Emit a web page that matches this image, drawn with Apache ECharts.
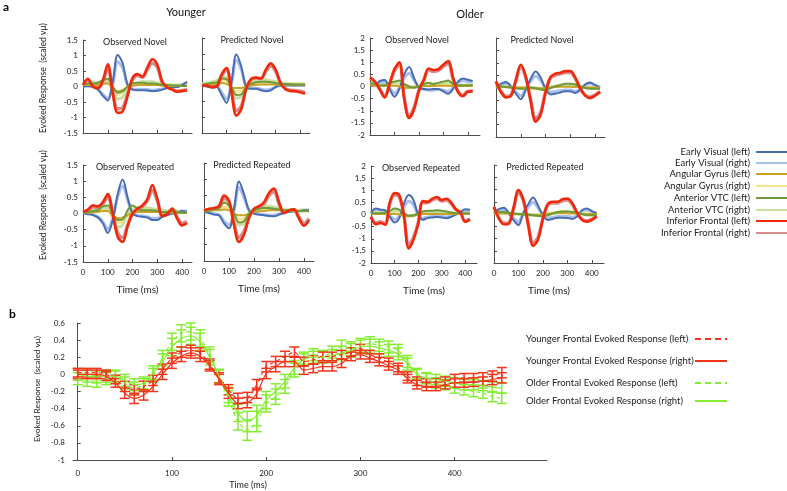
<!DOCTYPE html>
<html><head><meta charset="utf-8">
<script src="https://cdn.jsdelivr.net/npm/echarts@6/dist/echarts.min.js"></script>
<style>html,body{margin:0;padding:0;background:#fff}#c{width:787px;height:491px}</style>
</head><body><div id="c"></div>
<script>
// ---------- Panel a data (time in ms, sampled every 20 ms) ----------
const time = [0,20,40,60,80,100,120,140,160,180,200,220,240,260,280,300,320,340,360,380,400,420];
const xTicks = [0,100,200,300,400];
const regionNames = ['Early Visual (left)','Early Visual (right)','Angular Gyrus (left)','Angular Gyrus (right)','Anterior VTC (left)','Anterior VTC (right)','Inferior Frontal (left)','Inferior Frontal (right)'];

// Younger - Observed Novel
const yonEVL = [0,0.02,0,-0.1,-0.3,-0.45,0.15,1.02,0.75,0.05,-0.1,-0.12,-0.12,-0.13,-0.15,-0.14,-0.1,-0.05,-0.02,-0.02,0.05,0.15];
const yonEVR = [0.02,0.02,0,-0.08,-0.25,-0.38,0.05,0.8,0.6,0.05,-0.08,-0.1,-0.1,-0.1,-0.12,-0.1,-0.08,-0.03,0,0,0.05,0.12];
const yonAGL = [0.05,0.05,0.05,0.05,0.08,0.1,-0.05,-0.15,-0.12,-0.02,0.02,0.05,0.05,0.05,0.05,0.05,0.03,0.02,0.02,0.02,0.02,0.02];
const yonAGR = [0.08,0.08,0.08,0.08,0.12,0.15,-0.05,-0.25,-0.2,-0.03,0.05,0.08,0.1,0.1,0.1,0.08,0.05,0.05,0.05,0.05,0.05,0.05];
const yonVTL = [0.05,0.1,0.1,0.12,0.2,0.25,0,-0.2,-0.15,0,0.1,0.12,0.12,0.1,0.1,0.08,0.05,0.05,0.03,0.03,0.02,0.02];
const yonVTR = [0.1,0.15,0.15,0.12,0.15,0.15,-0.1,-0.4,-0.35,-0.05,0.05,0.12,0.15,0.15,0.15,0.12,0.08,0.05,0.05,0.05,0.05,0.05];
const yonIFL = [0.05,0.25,0,-0.05,0.2,0.72,-0.2,-0.85,-0.8,-0.3,0.27,0.4,0.32,0.62,0.88,0.7,0.15,-0.03,-0.1,-0.17,-0.15,-0.12];
const yonIFR = [0.05,0.2,0,-0.05,0.15,0.6,-0.15,-0.72,-0.68,-0.25,0.22,0.35,0.3,0.55,0.75,0.62,0.12,-0.03,-0.08,-0.15,-0.13,-0.1];

// Younger - Predicted Novel
const ypnEVL = [0,-0.03,-0.06,-0.05,-0.3,-0.55,0.1,0.98,0.6,-0.05,-0.1,-0.1,-0.15,-0.18,-0.15,-0.05,0,0,0,0,0,0];
const ypnEVR = [0.02,0,-0.03,-0.03,-0.22,-0.42,0.05,0.8,0.5,-0.02,-0.08,-0.08,-0.12,-0.14,-0.12,-0.04,0,0.02,0.02,0.02,0.02,0.02];
const ypnAGL = [0.02,0.02,0.03,0.05,0.08,0.05,-0.05,-0.08,-0.08,-0.03,0,0.02,0.03,0.03,0.03,0.03,0.02,0.02,0.02,0.02,0.02,0.02];
const ypnAGR = [0.05,0.05,0.08,0.1,0.18,0.15,-0.05,-0.2,-0.18,-0.05,0.02,0.05,0.08,0.1,0.1,0.08,0.05,0.05,0.05,0.05,0.05,0.05];
const ypnVTL = [0.02,0.05,0.08,0.1,0.22,0.2,-0.05,-0.3,-0.28,-0.05,0.05,0.1,0.12,0.12,0.1,0.08,0.05,0.05,0.04,0.03,0.03,0.03];
const ypnVTR = [0.05,0.08,0.12,0.15,0.28,0.25,-0.05,-0.4,-0.35,-0.05,0.08,0.15,0.18,0.18,0.15,0.12,0.08,0.06,0.05,0.05,0.05,0.05];
const ypnIFL = [0,0,-0.05,-0.03,0.35,0.55,-0.2,-0.95,-0.75,-0.1,0.2,0.25,0.22,0.5,0.7,0.5,0.08,-0.12,-0.17,-0.18,-0.21,-0.26];
const ypnIFR = [0,0,-0.04,-0.02,0.3,0.48,-0.15,-0.8,-0.65,-0.08,0.18,0.24,0.22,0.45,0.62,0.45,0.08,-0.1,-0.15,-0.16,-0.18,-0.22];

// Younger - Observed Repeated
const yorEVL = [0,-0.02,-0.05,-0.12,-0.3,-0.6,-0.2,0.6,1.05,0.5,0,-0.08,-0.1,-0.12,-0.2,-0.2,-0.1,-0.05,0,0.02,0.08,0.05];
const yorEVR = [0.02,0,-0.03,-0.1,-0.25,-0.48,-0.15,0.5,0.85,0.42,0.02,-0.06,-0.08,-0.1,-0.15,-0.15,-0.08,-0.03,0.02,0.04,0.08,0.08];
const yorAGL = [0.02,0.02,0.03,0.05,0.08,0.08,-0.05,-0.15,-0.12,-0.05,0.02,0.05,0.05,0.05,0.05,0.05,0.03,0.02,0.02,0.02,0.02,0.02];
const yorAGR = [0.05,0.05,0.06,0.08,0.12,0.12,-0.05,-0.28,-0.25,-0.08,0.05,0.1,0.12,0.12,0.1,0.08,0.06,0.05,0.05,0.05,0.05,0.05];
const yorVTL = [0.02,0.05,0.08,0.1,0.22,0.25,0,-0.2,-0.18,0.1,0.25,0.15,0.1,0.1,0.1,0.08,0.05,0.05,0.08,0.05,0.02,0.02];
const yorVTR = [0.05,0.08,0.1,0.12,0.18,0.15,-0.15,-0.42,-0.35,0,0.15,0.18,0.18,0.18,0.15,0.12,0.1,0.08,0.1,0.08,0.05,0.05];
const yorIFL = [0.05,0.12,0.25,0.22,0.35,0.6,0,-0.72,-0.88,-0.4,0,0.15,0.25,0.45,0.88,0.45,-0.08,-0.02,0.15,-0.15,-0.37,-0.3];
const yorIFR = [0.05,0.1,0.2,0.18,0.3,0.5,0,-0.6,-0.75,-0.35,0,0.12,0.22,0.4,0.72,0.4,-0.05,0,0.12,-0.12,-0.3,-0.25];

// Younger - Predicted Repeated
const yprEVL = [0,-0.03,-0.08,-0.1,-0.35,-0.5,0.1,0.93,0.55,0.05,-0.05,-0.08,-0.1,-0.12,-0.13,-0.08,-0.03,0,0.02,0.03,0.05,0.05];
const yprEVR = [0.02,0,-0.05,-0.08,-0.28,-0.4,0.05,0.75,0.45,0.05,-0.03,-0.06,-0.08,-0.1,-0.1,-0.06,-0.02,0.02,0.03,0.04,0.05,0.06];
const yprAGL = [0.02,0.03,0.05,0.05,0.08,0.05,-0.05,-0.1,-0.1,-0.05,0,0.02,0.03,0.05,0.05,0.05,0.03,0.03,0.02,0.02,0.02,0.02];
const yprAGR = [0.05,0.05,0.08,0.1,0.15,0.12,-0.05,-0.22,-0.2,-0.05,0.03,0.06,0.08,0.1,0.1,0.08,0.06,0.05,0.05,0.05,0.05,0.05];
const yprVTL = [0.02,0.05,0.08,0.12,0.28,0.2,-0.05,-0.32,-0.28,-0.05,0.05,0.1,0.12,0.12,0.1,0.08,0.05,0.05,0.04,0.03,0.03,0.03];
const yprVTR = [0.05,0.08,0.1,0.15,0.32,0.25,-0.05,-0.4,-0.35,-0.05,0.08,0.15,0.18,0.18,0.15,0.12,0.08,0.06,0.05,0.05,0.05,0.05];
const yprIFL = [0.05,0.1,0.12,0.18,0.5,0.35,-0.4,-0.92,-0.7,-0.18,0.1,0.18,0.3,0.58,0.72,0.3,-0.03,0.05,0.08,-0.2,-0.42,-0.25];
const yprIFR = [0.05,0.08,0.1,0.15,0.42,0.3,-0.32,-0.78,-0.6,-0.15,0.08,0.15,0.25,0.5,0.62,0.25,-0.02,0.04,0.06,-0.16,-0.35,-0.2];

// Older - Observed Novel
const oonEVL = [0.05,0.05,0.22,0.27,-0.1,-0.42,-0.1,0.5,0.8,0.35,-0.05,-0.1,-0.12,-0.1,-0.1,-0.2,-0.3,-0.1,0.2,0.33,0.28,0.22];
const oonEVR = [0.08,0.05,0.15,0.18,-0.05,-0.28,-0.05,0.35,0.55,0.25,-0.02,-0.12,-0.15,-0.15,-0.12,-0.15,-0.2,-0.05,0.15,0.25,0.2,0.18];
const oonAGL = [0.05,0.03,0.02,0.02,0.03,0.03,0,-0.05,-0.05,-0.02,0,0.02,0.02,0.02,0.03,0.03,0.03,0.02,0.02,0.02,0.02,0.02];
const oonAGR = [0.1,0.08,0.05,0.05,0.08,0.1,0.05,-0.05,-0.05,0,0.05,0.08,0.1,0.1,0.12,0.12,0.1,0.08,0.05,0.05,0.05,0.05];
const oonVTL = [0.15,0.1,0.05,0.05,0.15,0.2,0.25,0.1,0,-0.05,0,0.1,0.15,0.1,0.15,0.2,0.25,0.1,0.05,0.05,0.05,0.05];
const oonVTR = [0.12,0.08,0.05,0.05,0.1,0.15,0.18,0.08,0,-0.03,0.02,0.08,0.12,0.1,0.12,0.15,0.18,0.08,0.05,0.05,0.05,0.05];
const oonIFL = [0.38,0.2,-0.12,-0.45,0.1,0.72,1.0,-0.5,-1.3,-0.95,-0.18,0.28,0.74,0.68,0.72,0.9,1.05,0.35,-0.22,-0.4,-0.22,-0.2];
const oonIFR = [0.35,0.18,-0.1,-0.4,0.08,0.65,0.9,-0.45,-1.2,-0.88,-0.15,0.25,0.68,0.62,0.66,0.82,0.95,0.3,-0.2,-0.36,-0.2,-0.18];

// Older - Predicted Novel
const opnEVL = [0.02,0.15,0.22,0.05,-0.25,-0.47,-0.1,0.35,0.65,0.4,-0.05,-0.28,-0.25,-0.2,-0.15,-0.15,-0.22,-0.1,0.12,0.2,0.1,0];
const opnEVR = [0.02,0.1,0.15,0.03,-0.18,-0.33,-0.05,0.25,0.45,0.28,-0.03,-0.18,-0.16,-0.12,-0.1,-0.1,-0.15,-0.06,0.1,0.15,0.08,0];
const opnAGL = [0.02,0.02,0.02,0.02,0,0,0,-0.02,-0.03,-0.03,-0.02,0,0.02,0.03,0.03,0.03,0.02,0.02,0,0,0,0];
const opnAGR = [0.05,0.05,0.03,0.02,0,-0.02,-0.02,-0.05,-0.06,-0.05,-0.02,0.02,0.05,0.08,0.1,0.1,0.08,0.05,0.02,0,0,0];
const opnVTL = [0.05,0.05,0.02,0,-0.03,-0.05,-0.03,0,-0.03,-0.08,-0.1,-0.02,0.05,0.1,0.15,0.15,0.12,0.05,-0.02,-0.05,-0.05,-0.05];
const opnVTR = [0.05,0.05,0.03,0,-0.02,-0.03,-0.02,0,-0.02,-0.05,-0.06,0,0.05,0.08,0.12,0.12,0.1,0.05,0,-0.03,-0.03,-0.03];
const opnIFL = [0.25,-0.18,-0.4,-0.35,0.3,0.92,0.45,-0.55,-1.38,-1.1,-0.2,0.42,0.56,0.6,0.66,0.66,0.4,-0.05,-0.33,-0.43,-0.33,-0.18];
const opnIFR = [0.22,-0.15,-0.35,-0.3,0.26,0.82,0.4,-0.5,-1.25,-1.0,-0.18,0.38,0.5,0.55,0.6,0.6,0.36,-0.04,-0.3,-0.38,-0.3,-0.16];

// Older - Observed Repeated
const oorEVL = [0.05,0.25,0.2,0.18,-0.1,-0.33,-0.15,0.45,0.8,0.6,0,-0.22,-0.15,-0.12,-0.1,-0.12,-0.15,-0.1,0,0.1,0.22,0.2];
const oorEVR = [0.05,0.15,0.12,0.12,-0.05,-0.2,-0.08,0.3,0.55,0.4,0,-0.15,-0.1,-0.08,-0.05,-0.08,-0.1,-0.05,0.02,0.08,0.15,0.15];
const oorAGL = [0.02,0.02,0.02,0.02,0.02,0.02,0,-0.05,-0.05,-0.02,0,0.02,0.02,0.02,0.02,0.02,0.02,0.02,0.02,0.02,0.02,0.02];
const oorAGR = [0.08,0.08,0.05,0.05,0.05,0.08,0.05,-0.05,-0.08,-0.05,0.02,0.06,0.08,0.08,0.08,0.08,0.08,0.06,0.05,0.05,0.05,0.05];
const oorVTL = [0.05,0.05,0.05,0.08,0.15,0.25,0.2,0.05,-0.05,-0.05,0.05,0.12,0.15,0.15,0.18,0.15,0.12,0.08,0.05,0.05,0.05,0.05];
const oorVTR = [0.05,0.05,0.05,0.06,0.1,0.18,0.15,0.03,-0.05,-0.03,0.03,0.08,0.1,0.12,0.12,0.1,0.08,0.05,0.04,0.04,0.04,0.04];
const oorIFL = [-0.1,-0.4,-0.35,-0.42,0.5,0.88,0.8,-0.05,-1.4,-1.05,-0.4,0.55,0.52,0.65,0.72,0.6,0.65,0.5,0.22,0.08,-0.3,-0.2];
const oorIFR = [-0.08,-0.35,-0.3,-0.38,0.45,0.8,0.72,-0.05,-1.28,-0.95,-0.35,0.5,0.48,0.6,0.66,0.55,0.6,0.45,0.2,0.06,-0.28,-0.18];

// Older - Predicted Repeated
const oprEVL = [0.02,0.2,0.26,0.05,-0.25,-0.45,0.05,0.4,0.67,0.35,-0.05,-0.24,-0.2,-0.15,-0.15,-0.16,-0.2,-0.1,0.15,0.22,0.12,0.02];
const oprEVR = [0.02,0.14,0.18,0.03,-0.18,-0.32,0.03,0.28,0.48,0.25,-0.03,-0.16,-0.14,-0.1,-0.1,-0.1,-0.13,-0.06,0.1,0.16,0.08,0.02];
const oprAGL = [0.02,0.02,0.02,0.02,0,0,0,-0.02,-0.03,-0.03,-0.02,0,0.02,0.03,0.03,0.03,0.02,0.02,0,0,0,0];
const oprAGR = [0.05,0.05,0.04,0.02,0,-0.02,-0.03,-0.05,-0.06,-0.05,-0.02,0.02,0.05,0.08,0.1,0.1,0.08,0.05,0.02,0,0,0];
const oprVTL = [0.05,0.08,0.08,0.05,0.02,0,-0.02,-0.03,-0.05,-0.08,-0.1,-0.05,0.02,0.08,0.1,0.1,0.08,0.05,0,-0.05,-0.05,-0.05];
const oprVTR = [0.05,0.06,0.06,0.04,0.02,0,-0.02,-0.02,-0.04,-0.06,-0.07,-0.03,0.02,0.06,0.08,0.08,0.06,0.04,0,-0.03,-0.03,-0.03];
const oprIFL = [0.3,-0.18,-0.42,-0.4,0.25,0.98,0.6,-0.45,-1.3,-1.05,-0.2,0.4,0.5,0.5,0.6,0.63,0.45,0.05,-0.24,-0.31,-0.24,-0.1];
const oprIFR = [0.27,-0.16,-0.38,-0.36,0.22,0.88,0.54,-0.4,-1.18,-0.95,-0.18,0.36,0.45,0.45,0.54,0.57,0.4,0.04,-0.22,-0.28,-0.22,-0.09];

// ---------- Panel b data (time every 10 ms) ----------
const timeB = [0,10,20,30,40,50,60,70,80,90,100,110,120,130,140,150,160,170,180,190,200,210,220,230,240,250,260,270,280,290,300,310,320,330,340,350,360,370,380,390,400,410,420,430,440,450];
const youngLeft = [0.02,0.02,0.02,0.0,-0.06,-0.14,-0.18,-0.14,-0.07,0.06,0.19,0.26,0.28,0.25,0.12,-0.04,-0.18,-0.28,-0.27,-0.12,0.09,0.15,0.21,0.26,0.15,0.17,0.21,0.21,0.23,0.26,0.3,0.23,0.19,0.14,0.08,-0.02,-0.08,-0.1,-0.1,-0.08,-0.05,-0.04,-0.04,-0.03,-0.02,0.02];
const youngRight = [0.0,0.0,0.0,-0.02,-0.1,-0.22,-0.28,-0.24,-0.14,0.0,0.13,0.21,0.25,0.21,0.1,-0.06,-0.22,-0.34,-0.33,-0.22,0.01,0.09,0.15,0.15,0.05,0.07,0.09,0.09,0.13,0.21,0.23,0.19,0.15,0.1,0.05,-0.05,-0.12,-0.14,-0.14,-0.12,-0.1,-0.1,-0.09,-0.08,-0.06,-0.04];
const olderLeft = [-0.05,-0.07,-0.08,-0.05,-0.03,-0.1,-0.16,-0.12,-0.01,0.19,0.38,0.48,0.5,0.42,0.23,-0.03,-0.28,-0.55,-0.65,-0.55,-0.34,-0.26,-0.14,0.05,0.19,0.23,0.21,0.26,0.32,0.3,0.34,0.36,0.34,0.32,0.28,0.15,0.01,-0.05,-0.1,-0.12,-0.16,-0.18,-0.2,-0.22,-0.26,-0.28];
const olderRight = [0.0,-0.02,-0.03,-0.02,-0.02,-0.07,-0.12,-0.1,0.02,0.15,0.32,0.42,0.45,0.38,0.2,-0.02,-0.24,-0.45,-0.55,-0.48,-0.3,-0.2,-0.08,0.08,0.17,0.2,0.2,0.22,0.25,0.28,0.32,0.33,0.31,0.28,0.24,0.12,0.0,-0.04,-0.06,-0.08,-0.1,-0.12,-0.12,-0.13,-0.15,-0.16];
const errYoung = [0.05,0.05,0.05,0.05,0.05,0.06,0.06,0.06,0.06,0.06,0.06,0.06,0.06,0.06,0.06,0.06,0.06,0.06,0.06,0.06,0.06,0.06,0.06,0.06,0.05,0.05,0.05,0.05,0.05,0.05,0.05,0.05,0.05,0.05,0.05,0.05,0.05,0.05,0.05,0.05,0.05,0.05,0.05,0.05,0.06,0.06];
const errOlder = [0.07,0.07,0.07,0.07,0.07,0.07,0.07,0.07,0.08,0.09,0.1,0.1,0.1,0.1,0.09,0.08,0.09,0.1,0.12,0.12,0.1,0.09,0.08,0.08,0.07,0.07,0.07,0.07,0.08,0.08,0.08,0.08,0.07,0.07,0.07,0.07,0.06,0.06,0.06,0.06,0.06,0.06,0.06,0.06,0.06,0.06];
const legendB = ['Younger Frontal Evoked Response (left)','Younger Frontal Evoked Response (right)','Older Frontal Evoked Response (left)','Older Frontal Evoked Response (right)'];

// ---------- styling / layout ----------
const FONT = 'Lato, "Open Sans", sans-serif';
const regionColors = ['#4a6cb3','#a9c1ea','#c9a227','#f5e48c','#6e9a3c','#c6e2a2','#f2280a','#d98c8c'];
const regionWidths = [2,3,2,3,2,3,2.6,3.4];
const drawOrder = [1,3,5,7,0,2,4,6];

const panels = [
 {title:'Observed Novel', tx:135, left:83, top:40, width:109, height:93, xmax:440, ymax:1.5, yl:true, xl:false,
  d:[yonEVL,yonEVR,yonAGL,yonAGR,yonVTL,yonVTR,yonIFL,yonIFR]},
 {title:'Predicted Novel', tx:252, left:202, top:38, width:108, height:95, xmax:440, ymax:1.5, yl:false, xl:false,
  d:[ypnEVL,ypnEVR,ypnAGL,ypnAGR,ypnVTL,ypnVTR,ypnIFL,ypnIFR]},
 {title:'Observed Novel', tx:417, left:370, top:38, width:110, height:97, xmax:450, ymax:2, yl:true, xl:false,
  d:[oonEVL,oonEVR,oonAGL,oonAGR,oonVTL,oonVTR,oonIFL,oonIFR]},
 {title:'Predicted Novel', tx:542, left:496, top:38, width:109, height:99, xmax:440, ymax:2, yl:false, xl:false,
  d:[opnEVL,opnEVR,opnAGL,opnAGR,opnVTL,opnVTR,opnIFL,opnIFR]},
 {title:'Observed Repeated', tx:135, left:83, top:165, width:109, height:97, xmax:440, ymax:1.5, yl:true, xl:true,
  d:[yorEVL,yorEVR,yorAGL,yorAGR,yorVTL,yorVTR,yorIFL,yorIFR]},
 {title:'Predicted Repeated', tx:252, left:204, top:163, width:110, height:98, xmax:440, ymax:1.5, yl:false, xl:true,
  d:[yprEVL,yprEVR,yprAGL,yprAGR,yprVTL,yprVTR,yprIFL,yprIFR]},
 {title:'Observed Repeated', tx:421, left:371, top:166, width:106, height:97, xmax:450, ymax:2, yl:true, xl:true,
  d:[oorEVL,oorEVR,oorAGL,oorAGR,oorVTL,oorVTR,oorIFL,oorIFR]},
 {title:'Predicted Repeated', tx:545, left:494, top:165, width:110, height:98, xmax:450, ymax:2, yl:false, xl:true,
  d:[oprEVL,oprEVR,oprAGL,oprAGR,oprVTL,oprVTR,oprIFL,oprIFR]}
];

const grids=[], xAxes=[], yAxes=[], series=[], graphics=[];
const axisCol = '#4d4d4d';
panels.forEach((p,i)=>{
  grids.push({left:p.left, top:p.top, width:p.width, height:p.height});
  xAxes.push({type:'value', gridIndex:i, min:0, max:p.xmax,
    axisLine:{onZero:false, lineStyle:{color:axisCol, width:1}},
    axisTick:{show:true, inside:true, length:3, customValues:xTicks, lineStyle:{color:axisCol}},
    axisLabel:{show:p.xl, customValues:xTicks, fontSize:8, color:'#222', margin:6, fontFamily:FONT},
    splitLine:{show:false}});
  yAxes.push({type:'value', gridIndex:i, min:-p.ymax, max:p.ymax, interval:0.5,
    axisLine:{show:true, lineStyle:{color:axisCol, width:1}},
    axisTick:{show:true, inside:true, length:3, lineStyle:{color:axisCol}},
    axisLabel:{show:p.yl, fontSize:8, color:'#222', margin:5, fontFamily:FONT},
    splitLine:{show:false}});
  drawOrder.forEach(r=>{
    series.push({type:'line', xAxisIndex:i, yAxisIndex:i, name:regionNames[r],
      data: time.map((t,k)=>[t, p.d[r][k]]), smooth:0.35, symbol:'none', silent:true,
      lineStyle:{color:regionColors[r], width:regionWidths[r]}});
  });
  graphics.push({type:'text', x:p.tx, y:p.top+2, style:{text:p.title, fontSize:9, fill:'#222', fontFamily:FONT, align:'center', verticalAlign:'middle'}});
  if (p.xl) graphics.push({type:'text', x:p.left+p.width/2, y:p.top+p.height+28, style:{text:'Time (ms)', fontSize:10, fill:'#222', fontFamily:FONT, align:'center', verticalAlign:'middle'}});
});

// panel b
const bi = panels.length;
grids.push({left:73, top:323, width:474, height:137});
xAxes.push({type:'value', gridIndex:bi, min:-5, max:498,
  axisLine:{onZero:false, lineStyle:{color:axisCol}},
  axisTick:{show:true, inside:true, length:3, customValues:xTicks, lineStyle:{color:axisCol}},
  axisLabel:{show:true, customValues:xTicks, fontSize:8, color:'#222', margin:9, fontFamily:FONT},
  splitLine:{show:false}});
yAxes.push({type:'value', gridIndex:bi, min:-1, max:0.6, interval:0.2,
  axisLine:{show:true, lineStyle:{color:axisCol}},
  axisTick:{show:true, inside:true, length:3, lineStyle:{color:axisCol}},
  axisLabel:{show:true, fontSize:8, color:'#222', margin:8, fontFamily:FONT,
    formatter:v=>String(Math.round(v*10)/10)},
  splitLine:{show:false}});

function errRender(color){
  return function(params, api){
    const x = api.value(0);
    const lo = api.coord([x, api.value(1)]);
    const hi = api.coord([x, api.value(2)]);
    const hw = 5;
    const st = {stroke:color, lineWidth:1.5};
    return {type:'group', children:[
      {type:'line', shape:{x1:lo[0], y1:lo[1], x2:hi[0], y2:hi[1]}, style:st},
      {type:'line', shape:{x1:lo[0]-hw, y1:lo[1], x2:lo[0]+hw, y2:lo[1]}, style:st},
      {type:'line', shape:{x1:hi[0]-hw, y1:hi[1], x2:hi[0]+hw, y2:hi[1]}, style:st}
    ]};
  };
}
const greenC = '#86ee32', redC = '#f2341a';
const bSeries = [
  {v:olderLeft, e:errOlder, c:greenC, dash:true},
  {v:olderRight, e:errOlder, c:greenC, dash:false},
  {v:youngLeft, e:errYoung, c:redC, dash:true},
  {v:youngRight, e:errYoung, c:redC, dash:false}
];
bSeries.forEach(s=>{
  series.push({type:'custom', xAxisIndex:bi, yAxisIndex:bi, silent:true,
    renderItem: errRender(s.c), encode:{x:0, y:[1,2]},
    data: timeB.map((t,k)=>[t, s.v[k]-s.e[k], s.v[k]+s.e[k]])});
  series.push({type:'line', xAxisIndex:bi, yAxisIndex:bi, silent:true, symbol:'none', smooth:0.3,
    data: timeB.map((t,k)=>[t, s.v[k]]),
    lineStyle:{color:s.c, width:1.2, type: s.dash ? [4,3] : 'solid'}});
});

// text / legends
const yTitle = 'Evoked Response  (scaled vμ)';
graphics.push(
  {type:'text', x:3, y:1, style:{text:'a', fontSize:12, fontWeight:'bold', fill:'#000', fontFamily:FONT}},
  {type:'text', x:9, y:308, style:{text:'b', fontSize:12, fontWeight:'bold', fill:'#000', fontFamily:FONT}},
  {type:'text', x:186, y:12, style:{text:'Younger', fontSize:11, fill:'#111', fontFamily:FONT, align:'center', verticalAlign:'middle'}},
  {type:'text', x:470, y:14, style:{text:'Older', fontSize:11, fill:'#111', fontFamily:FONT, align:'center', verticalAlign:'middle'}},
  {type:'text', x:43, y:78, rotation:Math.PI/2, style:{text:yTitle, fontSize:8.6, fill:'#222', fontFamily:FONT, align:'center', verticalAlign:'middle'}},
  {type:'text', x:43, y:205, rotation:Math.PI/2, style:{text:yTitle, fontSize:8.6, fill:'#222', fontFamily:FONT, align:'center', verticalAlign:'middle'}},
  {type:'text', x:37, y:389, rotation:Math.PI/2, style:{text:yTitle, fontSize:8.3, fill:'#222', fontFamily:FONT, align:'center', verticalAlign:'middle'}},
  {type:'text', x:248, y:485, style:{text:'Time (ms)', fontSize:9, fill:'#222', fontFamily:FONT, align:'center', verticalAlign:'middle'}}
);
const legRows = [152,163,174,186,198,210,221,233];
regionNames.forEach((n,i)=>{
  graphics.push({type:'text', x:750, y:legRows[i], style:{text:n, fontSize:9.5, fill:'#222', fontFamily:FONT, align:'right', verticalAlign:'middle'}});
  graphics.push({type:'line', shape:{x1:756, y1:legRows[i], x2:787, y2:legRows[i]}, style:{stroke:regionColors[i], lineWidth:2}});
});
const legBRows = [339,361,383,401];
const legBCols = [redC, redC, greenC, greenC];
legendB.forEach((n,i)=>{
  graphics.push({type:'text', x:526, y:legBRows[i], style:{text:n, fontSize:9.5, fill:'#222', fontFamily:FONT, align:'left', verticalAlign:'middle'}});
  graphics.push({type:'line', shape:{x1:695, y1:legBRows[i], x2:727, y2:legBRows[i]}, style:{stroke:legBCols[i], lineWidth:2, lineDash: i%2===0 ? [6,4] : null}});
});

const chart = echarts.init(document.getElementById('c'));
chart.setOption({animation:false, backgroundColor:'#fff', grid:grids, xAxis:xAxes, yAxis:yAxes, series:series, graphic:graphics});
</script>
</body></html>
